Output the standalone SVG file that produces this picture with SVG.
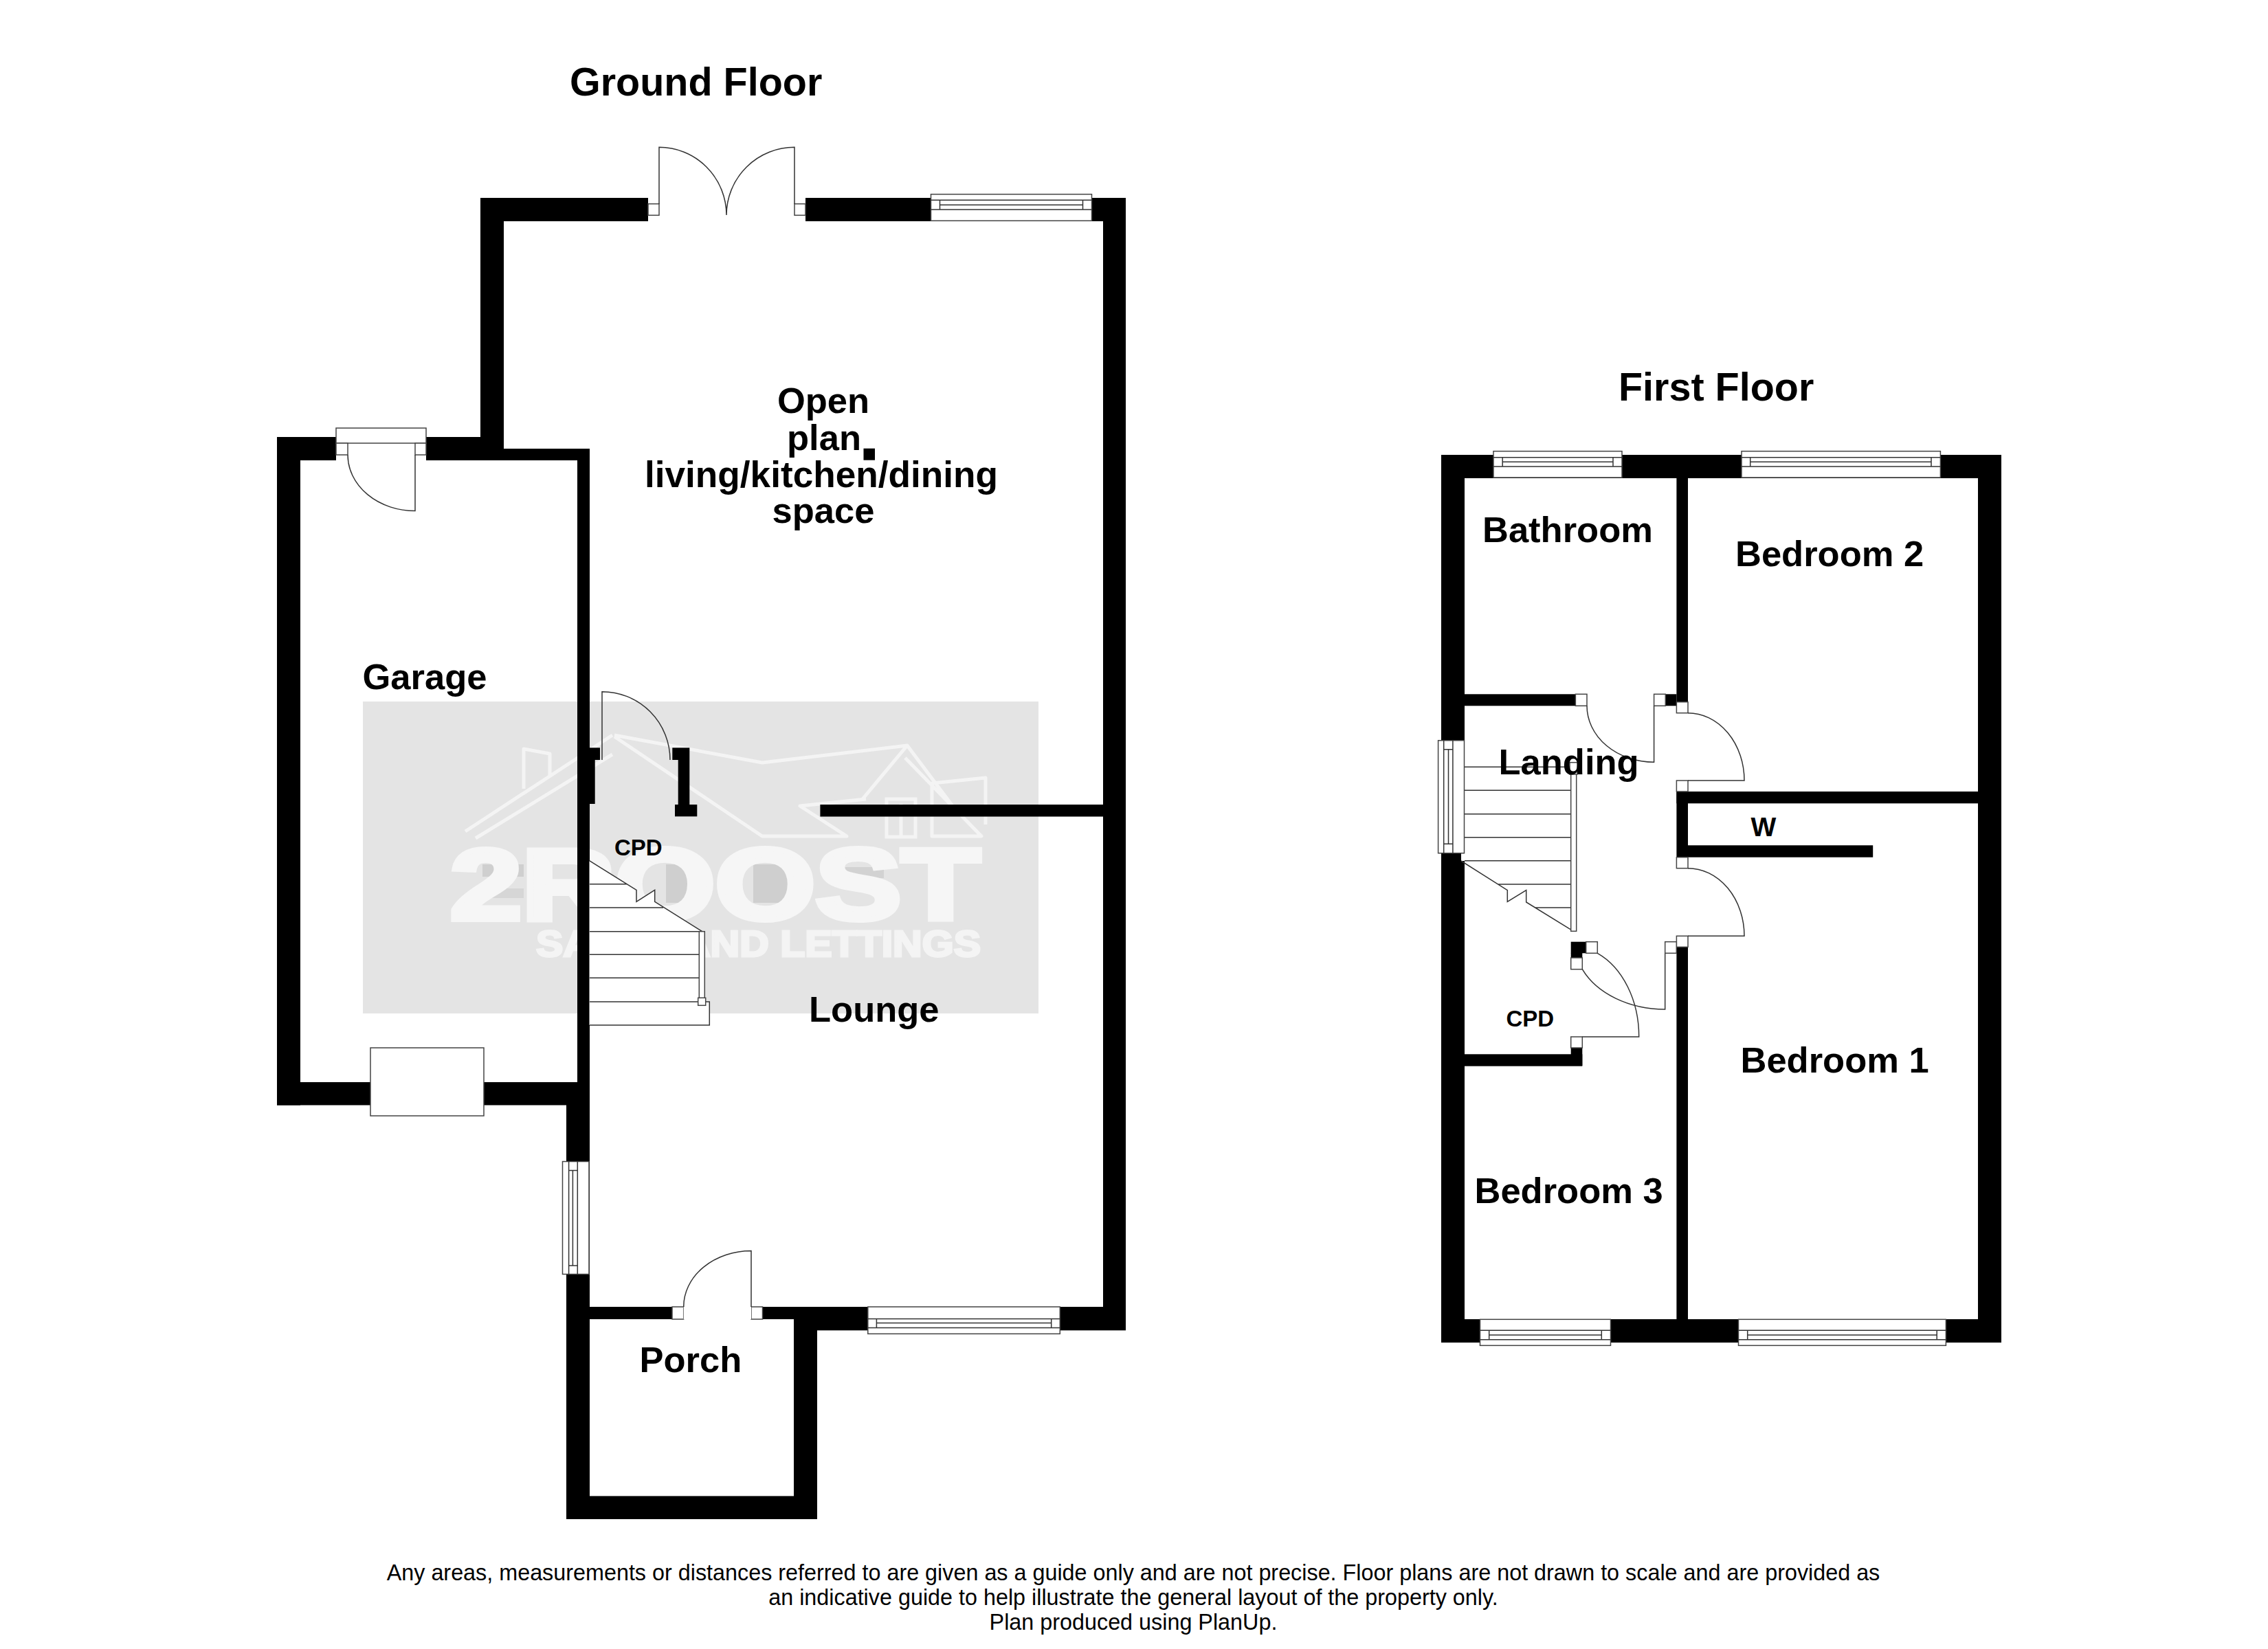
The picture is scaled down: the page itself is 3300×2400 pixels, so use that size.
<svg xmlns="http://www.w3.org/2000/svg" width="3300" height="2400" viewBox="0 0 3300 2400">
<style>
text{font-family:"Liberation Sans",Arial,sans-serif;font-weight:700;fill:#000}
.c{text-anchor:middle}
.r{font-size:52.5px}
.t{font-size:57.500px}
.s{font-size:33px}
.f{font-weight:400;font-size:32.350px;text-anchor:middle}
.k{fill:#000}
.o{fill:#fff;stroke:#444;stroke-width:1.5}
.l{fill:none;stroke:#333;stroke-width:1.5}
.wl{fill:none;stroke:#f4f4f4;stroke-width:5;stroke-linejoin:round}
</style>
<rect width="3300" height="2400" fill="#fff"/>
<g id="watermark">
<rect x="528" y="1021" width="983" height="454" fill="#e4e4e4"/>
<rect x="969" y="1258" width="52" height="56" fill="#cfcfcf"/>
<rect x="1096" y="1258" width="52" height="56" fill="#cfcfcf"/>
<rect x="702" y="1258" width="60" height="18" fill="#cfcfcf"/>
<rect x="698" y="1293" width="64" height="14" fill="#d6d6d6"/>
<rect x="1226" y="1262" width="60" height="16" fill="#d2d2d2"/>
<path class="wl" d="M677 1210L891 1070M692 1220L891 1098M762 1148V1090L800 1097V1130M894 1070L1109 1110L1320 1085L1255 1163M894 1072L1109 1217H1232L1164 1173L1260 1163M1317 1103L1428 1217H1356V1140L1434 1132V1200M1320 1085L1389 1177"/>
<rect x="1290" y="1163" width="42" height="55" fill="none" stroke="#f4f4f4" stroke-width="5"/>
<path class="wl" d="M1311 1170V1218"/>
<text x="655" y="1338" font-size="147" textLength="771" lengthAdjust="spacingAndGlyphs" style="fill:#f6f6f6;stroke:#f6f6f6;stroke-width:8">2ROOST</text>
<text x="780" y="1392" font-size="53" textLength="647" lengthAdjust="spacingAndGlyphs" style="fill:#f4f4f4;stroke:#f4f4f4;stroke-width:3">SALES AND LETTINGS</text>
</g>
<g id="ground-floor-walls" class="k">
<rect x="699" y="288" width="244" height="34"/>
<rect x="1172" y="288" width="466" height="34"/>
<rect x="1605" y="288" width="33" height="1648"/>
<rect x="699" y="288" width="34" height="382"/>
<rect x="403" y="636" width="296" height="34"/>
<rect x="699" y="653" width="159" height="17"/>
<rect x="403" y="636" width="34" height="972.500"/>
<rect x="840" y="653" width="18" height="955"/>
<rect x="403" y="1575" width="455" height="33.500"/>
<rect x="824" y="1608" width="34" height="603"/>
<rect x="824" y="1902" width="154" height="18"/>
<rect x="1109.500" y="1902" width="528.500" height="18"/>
<rect x="1155" y="1902" width="483" height="34.300"/>
<rect x="1155" y="1902" width="34" height="309"/>
<rect x="824" y="2177.400" width="365" height="33.600"/>
<rect x="1193.400" y="1171" width="412" height="17.500"/>
<rect x="857" y="1088.300" width="16" height="17.700"/>
<rect x="857" y="1106" width="8.700" height="64"/>
<rect x="978.300" y="1088.300" width="25" height="17.700"/>
<rect x="986.700" y="1106" width="16.600" height="65"/>
<rect x="982" y="1171" width="32.300" height="17.300"/>
<rect x="1256.500" y="652.700" width="16.500" height="17"/>
</g>
<g id="ground-floor-stairs">
<path d="M857.500 1252.700L926 1295.300V1312.300L952.700 1295.300V1312.300L1021.700 1355.700H1025V1458H1032.300V1492H857.500Z" fill="#fff"/>
<path class="l" d="M857.500 1252.700L926 1295.300V1312.300L952.700 1295.300V1312.300L1021.700 1355.700M858 1286.700H912M858 1321H965M858 1355.700H1025M858 1389.300H1017M858 1423.300H1017M858 1458H1032.300V1492H858"/>
<rect class="o" x="1017.300" y="1355.700" width="8" height="97"/>
<rect class="o" x="1015.700" y="1452.300" width="11" height="11"/>
</g>
<g id="ground-floor-doors">
<rect x="943" y="288" width="229" height="34" fill="#fff"/>
<rect class="o" x="943" y="296.700" width="16" height="16.600"/>
<rect class="o" x="1156" y="296.700" width="16" height="16.600"/>
<path class="l" d="M959 297V214.300A98 99 0 0 1 1057 313A99 99 0 0 1 1156 214.300V297"/>
<rect x="489" y="645" width="131" height="25" fill="#fff"/>
<rect class="o" x="489" y="623" width="131" height="22"/>
<rect class="o" x="489" y="645" width="17" height="17"/>
<rect class="o" x="604" y="645" width="16" height="17"/>
<path class="l" d="M604 662V743.600A98 81.600 0 0 1 506 662"/>
<rect class="o" x="539" y="1525" width="165" height="99"/>
<path class="l" d="M876 1106V1006.700A99 99.300 0 0 1 975 1106"/>
<rect class="o" x="978" y="1902" width="16.700" height="18"/>
<rect class="o" x="1093" y="1902" width="16.500" height="18"/>
<rect x="994.700" y="1902" width="98.300" height="18" fill="#fff"/>
<path class="l" d="M994.700 1902A98.300 81.500 0 0 1 1093 1820.500V1902"/>
</g>
<g id="ground-floor-windows">
<rect class="o" x="1354.500" y="282.700" width="234" height="38.600"/>
<path class="l" d="M1354.500 291.300H1588.500M1354.500 305H1588.500M1367.500 291.300V305M1575.500 291.300V305M1367.500 298.300H1575.500"/>
<rect class="o" x="818.500" y="1690.500" width="38.500" height="164"/>
<path class="l" d="M827.600 1690.500V1854.500M840.300 1690.500V1854.500M833.400 1703.500V1842M827.600 1703.500H840.300M827.600 1842H840.300"/>
<rect class="o" x="1262.800" y="1902" width="279.500" height="39.300"/>
<path class="l" d="M1262.800 1919.400H1542.300M1262.800 1932.500H1542.300M1275.400 1919.400V1932.500M1529.700 1919.400V1932.500M1275.400 1925.500H1529.700"/>
</g>
<g id="first-floor-walls" class="k">
<rect x="2097" y="662" width="34" height="416"/>
<rect x="2097" y="1241" width="29" height="12"/>
<rect x="2097" y="1253" width="34" height="701"/>
<rect x="2097" y="662" width="815" height="34"/>
<rect x="2878" y="662" width="34" height="1292"/>
<rect x="2097" y="1920" width="815" height="34"/>
<rect x="2439.400" y="696" width="16.600" height="326"/>
<rect x="2131" y="1010.300" width="161.400" height="17"/>
<rect x="2423.300" y="1010.300" width="16.100" height="17"/>
<rect x="2439.400" y="1152" width="438.600" height="17.300"/>
<rect x="2439.400" y="1152" width="16.600" height="95.700"/>
<rect x="2456" y="1230.300" width="269.200" height="17.400"/>
<rect x="2439.400" y="1378.300" width="16.600" height="542"/>
<rect x="2131" y="1534.300" width="171.300" height="17.400"/>
<rect x="2285.700" y="1525" width="16.600" height="26"/>
<rect x="2285.700" y="1370.700" width="22" height="16.600"/>
<rect x="2285.700" y="1387" width="16.600" height="7"/>
</g>
<g id="first-floor-stairs">
<path class="l" d="M2126 1253L2193.300 1295.700V1312.300L2220.700 1295.700V1313L2285 1352.700M2131 1116.300H2285.700M2131 1150.300H2285.700M2131 1184.700H2285.700M2131 1218.700H2285.700M2131 1252.700H2285.700M2180 1287H2285.700M2234 1321H2285.700"/>
<rect class="o" x="2285.700" y="1116" width="8" height="239.300"/>
<rect class="o" x="2284" y="1109.700" width="11" height="17.300"/>
</g>
<g id="first-floor-doors">
<rect class="o" x="2292.400" y="1010.300" width="16.600" height="17"/>
<rect class="o" x="2406.600" y="1010.300" width="16.700" height="17"/>
<path class="l" d="M2309 1027.300A97.600 82 0 0 0 2406.600 1109.300V1027.300"/>
<rect class="o" x="2439.400" y="1021.700" width="16.600" height="16"/>
<rect class="o" x="2439.400" y="1136" width="16.600" height="16"/>
<path class="l" d="M2456 1037.700A82 98.300 0 0 1 2538 1136H2456"/>
<rect class="o" x="2439.400" y="1247.700" width="16.600" height="16"/>
<rect class="o" x="2439.400" y="1362.300" width="16.600" height="16"/>
<path class="l" d="M2456 1263.700A82 98.600 0 0 1 2538 1362.300H2456"/>
<rect class="o" x="2307.700" y="1370.700" width="16.600" height="16.600"/>
<rect class="o" x="2285.700" y="1394" width="16.600" height="16.700"/>
<rect class="o" x="2285.700" y="1509" width="16.600" height="16"/>
<path class="l" d="M2324.300 1387.300A99 132 0 0 1 2384.700 1509H2302.300"/>
<path class="l" d="M2302.300 1410.700A131.700 98.300 0 0 0 2422.700 1469V1387.300"/>
<rect class="o" x="2422.700" y="1370.700" width="16.600" height="16.600"/>
</g>
<g id="first-floor-windows">
<rect class="o" x="2173" y="656.700" width="187" height="38.300"/>
<path class="l" d="M2173 665.700H2360M2173 679H2360M2186.200 665.700V679M2347 665.700V679M2186.200 672.300H2347"/>
<rect class="o" x="2534" y="656.700" width="289.400" height="38.300"/>
<path class="l" d="M2534 665.700H2823.400M2534 679H2823.400M2546.700 665.700V679M2810 665.700V679M2546.700 672.300H2810"/>
<rect class="o" x="2092.600" y="1077.700" width="37.900" height="164"/>
<path class="l" d="M2100.700 1077.700V1241.700M2113.900 1077.700V1241.700M2107.500 1090.700V1228.300M2100.700 1090.700H2113.900M2100.700 1228.300H2113.900"/>
<rect class="o" x="2153.500" y="1920.300" width="190" height="38"/>
<path class="l" d="M2153.500 1936.300H2343.500M2153.500 1949.700H2343.500M2166.700 1936.300V1949.700M2330.300 1936.300V1949.700M2166.700 1943H2330.300"/>
<rect class="o" x="2529.500" y="1920.300" width="301.900" height="38"/>
<path class="l" d="M2529.500 1936.300H2831.400M2529.500 1949.700H2831.400M2542.700 1936.300V1949.700M2818.200 1936.300V1949.700M2542.700 1943H2818.200"/>
</g>
<g id="labels">
<text class="t" x="829" y="139">Ground Floor</text>
<text class="t" x="2355" y="583">First Floor</text>
<text class="r c" x="1198" y="601.400">Open</text>
<text class="r c" x="1199" y="654.800">plan</text>
<text class="r c" style="font-size:53.200px" x="1195" y="708.700">living/kitchen/dining</text>
<text class="r c" x="1198" y="760.800">space</text>
<text class="r" x="527.500" y="1003">Garage</text>
<text class="r" x="1177" y="1486.500">Lounge</text>
<text class="r" x="930.500" y="1997">Porch</text>
<text class="s" x="894" y="1245">CPD</text>
<text class="r" x="2157" y="789">Bathroom</text>
<text class="r" x="2525" y="823.500">Bedroom 2</text>
<text class="r" x="2180.500" y="1127">Landing</text>
<text class="r" x="2532.500" y="1560.500">Bedroom 1</text>
<text class="r" x="2145.500" y="1751">Bedroom 3</text>
<text style="font-size:39px" x="2547.500" y="1216.500">W</text>
<text class="s" x="2191.500" y="1493.500">CPD</text>
<text class="f" x="1649" y="2300">Any areas, measurements or distances referred to are given as a guide only and are not precise. Floor plans are not drawn to scale and are provided as</text>
<text class="f" x="1649" y="2336">an indicative guide to help illustrate the general layout of the property only.</text>
<text class="f" x="1649" y="2372">Plan produced using PlanUp.</text>
</g>
</svg>
